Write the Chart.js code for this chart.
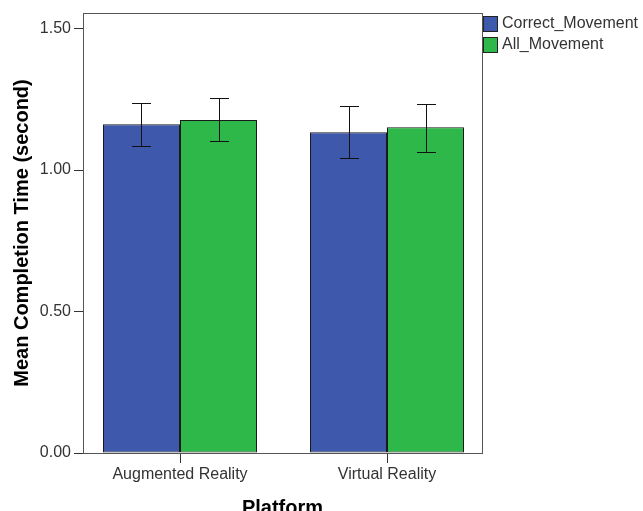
<!DOCTYPE html>
<html>
<head>
<meta charset="utf-8">
<script src="https://cdn.jsdelivr.net/npm/chart.js@4.4.1/dist/chart.umd.min.js"></script>
<style>
  html, body { margin: 0; padding: 0; background: #fff; }
  #wrap { width: 643px; height: 511px; }
</style>
</head>
<body>
<div id="wrap"><canvas id="chartPlatform"></canvas></div>
<script>
const platforms = ['Augmented Reality', 'Virtual Reality'];
const seriesNames = ['Correct_Movement', 'All_Movement'];
const correctMean = [1.162, 1.134];
const correctLow = [1.086, 1.041];
const correctHigh = [1.236, 1.225];
const allMean = [1.177, 1.151];
const allLow = [1.101, 1.065];
const allHigh = [1.254, 1.235];
const yTicks = [0, 0.5, 1.0, 1.5];

const barColors = ['rgb(62, 88, 172)', 'rgb(46, 184, 74)'];

function toPoints(means) {
  return means.map((v, i) => ({ x: i, y: v }));
}

// error bars + frame + legend
const extras = {
  id: 'extras',
  afterDatasetsDraw(chart) {
    const ctx = chart.ctx;
    const yScale = chart.scales.y;
    const ranges = [[correctLow, correctHigh], [allLow, allHigh]];
    ctx.save();
    ctx.strokeStyle = '#111';
    ctx.lineWidth = 1;
    chart.data.datasets.forEach((ds, d) => {
      const meta = chart.getDatasetMeta(d);
      meta.data.forEach((bar, i) => {
        const x = Math.round(bar.x) + 0.5;
        const yLo = Math.round(yScale.getPixelForValue(ranges[d][0][i])) + 0.5;
        const yHi = Math.round(yScale.getPixelForValue(ranges[d][1][i])) + 0.5;
        ctx.beginPath();
        ctx.moveTo(x, yLo); ctx.lineTo(x, yHi);
        ctx.moveTo(x - 9.5, yLo); ctx.lineTo(x + 9.5, yLo);
        ctx.moveTo(x - 9.5, yHi); ctx.lineTo(x + 9.5, yHi);
        ctx.stroke();
      });
    });
    // plot frame
    const a = chart.chartArea;
    ctx.strokeStyle = '#555';
    ctx.strokeRect(Math.round(a.left) + 0.5, Math.round(a.top) + 0.5,
      Math.round(a.right - a.left), Math.round(a.bottom - a.top));
    ctx.restore();
  },
  afterDraw(chart) {
    const ctx = chart.ctx;
    const a = chart.chartArea;
    ctx.save();
    ctx.font = '16px "Liberation Sans", Arial, sans-serif';
    ctx.textBaseline = 'middle';
    seriesNames.forEach((name, i) => {
      const top = 16 + i * 21;
      ctx.fillStyle = barColors[i];
      ctx.fillRect(a.right + 1, top, 15, 16);
      ctx.strokeStyle = '#222';
      ctx.strokeRect(a.right + 1.5, top + 0.5, 14, 15);
      ctx.fillStyle = '#333';
      ctx.fillText(name, a.right + 20, top + 8);
    });
    ctx.restore();
  }
};

new Chart('chartPlatform', {
  type: 'bar',
  data: {
    datasets: [
      {
        label: seriesNames[0],
        data: toPoints(correctMean),
        backgroundColor: barColors[0],
        borderColor: '#1a1a1a',
        borderWidth: 1,
        borderSkipped: false
      },
      {
        label: seriesNames[1],
        data: toPoints(allMean),
        backgroundColor: barColors[1],
        borderColor: '#1a1a1a',
        borderWidth: 1,
        borderSkipped: false
      }
    ]
  },
  options: {
    responsive: true,
    maintainAspectRatio: false,
    animation: false,
    layout: { padding: { left: 0, top: 13, right: 161, bottom: 0 } },
    datasets: { bar: { categoryPercentage: 0.744, barPercentage: 1 } },
    plugins: {
      legend: { display: false },
      tooltip: { enabled: false }
    },
    scales: {
      x: {
        type: 'linear',
        offset: false,
        min: -0.4686,
        max: 1.4589,
        afterBuildTicks(scale) {
          scale.ticks = platforms.map((p, i) => ({ value: i }));
        },
        afterFit(scale) { scale.height = 58; },
        ticks: {
          autoSkip: false,
          maxRotation: 0,
          padding: 2,
          color: '#333',
          font: { family: '"Liberation Sans", Arial, sans-serif', size: 16 },
          callback: (v) => platforms[v]
        },
        grid: { offset: false, drawOnChartArea: false, tickLength: 10, color: '#333' },
        border: { display: false },
        title: {
          display: true,
          text: 'Platform',
          color: '#000',
          padding: { top: 0, bottom: -9 },
          font: { family: '"Liberation Sans", Arial, sans-serif', size: 20, weight: 'bold' }
        }
      },
      y: {
        min: 0,
        max: 1.555,
        afterBuildTicks(scale) {
          scale.ticks = yTicks.map(v => ({ value: v }));
        },
        afterFit(scale) { scale.width = 83; },
        ticks: {
          padding: 3,
          color: '#333',
          font: { family: '"Liberation Sans", Arial, sans-serif', size: 16 },
          callback: (v) => Number(v).toFixed(2)
        },
        grid: { drawOnChartArea: false, tickLength: 9, color: '#333' },
        border: { display: false },
        title: {
          display: true,
          text: 'Mean Completion Time (second)',
          color: '#000',
          padding: { top: 10, bottom: 0 },
          font: { family: '"Liberation Sans", Arial, sans-serif', size: 20, weight: 'bold' }
        }
      }
    }
  },
  plugins: [extras]
});
</script>
</body>
</html>
